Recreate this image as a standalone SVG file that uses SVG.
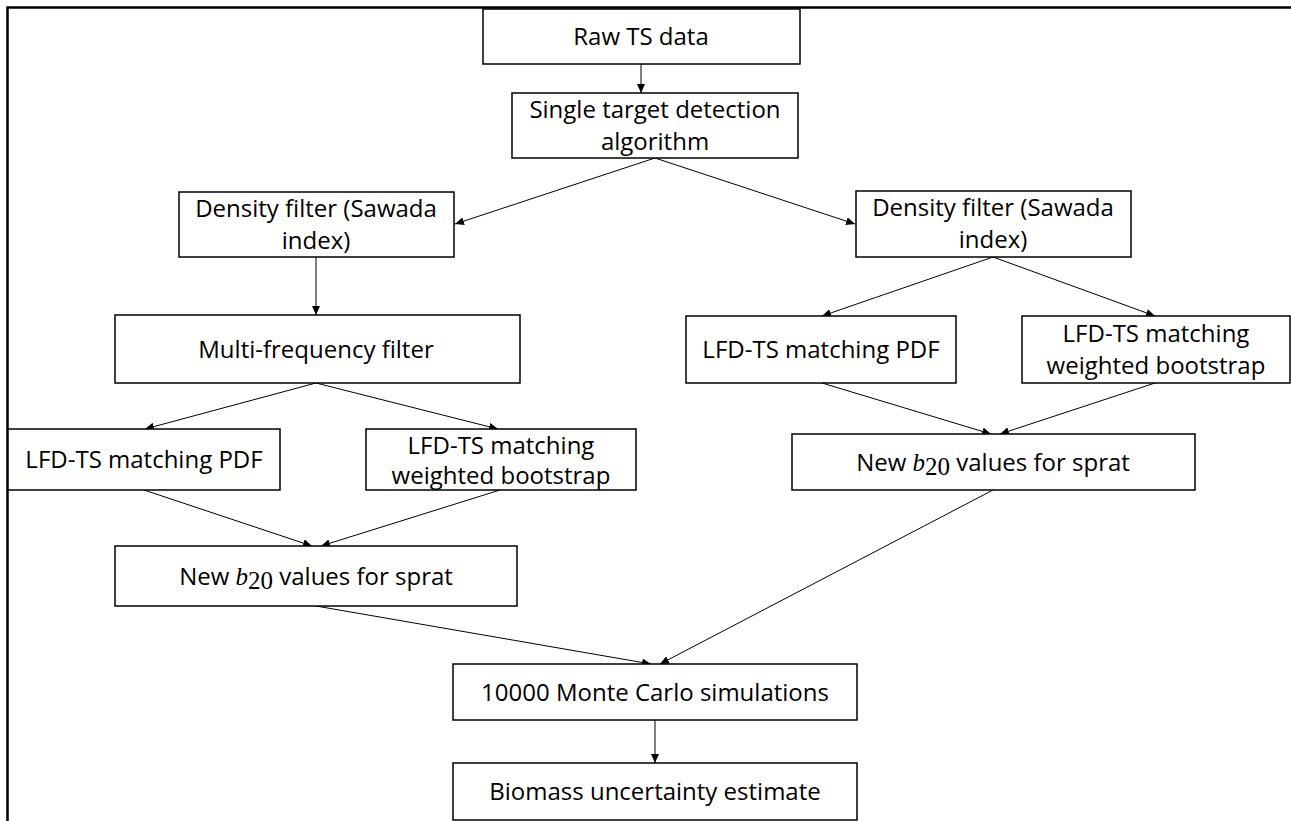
<svg xmlns="http://www.w3.org/2000/svg" width="1291" height="821" viewBox="0 0 1291 821">
<defs>
<marker id="ah" markerWidth="9" markerHeight="8" refX="9" refY="4" orient="auto" markerUnits="userSpaceOnUse">
<path d="M0,0 L9,4 L0,8 Z" fill="#000"/>
</marker>
<style>
.box{fill:#fff;stroke:#000;stroke-width:1.5}
.t{font-family:"Open Sans","Liberation Sans",sans-serif;font-size:24px;fill:#000;text-anchor:middle}
.m{font-family:"Liberation Serif",serif;font-size:25px}
.c{stroke:#000;stroke-width:1;fill:none;marker-end:url(#ah)}
</style>
</defs>
<rect width="1291" height="821" fill="#fff"/>
<path d="M7.5,821 V7.5 H1291" fill="none" stroke="#000" stroke-width="2.5"/>
<g id="connectors">
<line class="c" x1="641" y1="64" x2="641" y2="93"/>
<line class="c" x1="655" y1="158" x2="455" y2="224"/>
<line class="c" x1="655" y1="158" x2="855" y2="224"/>
<line class="c" x1="316" y1="257" x2="316" y2="315"/>
<line class="c" x1="316" y1="383" x2="145" y2="429"/>
<line class="c" x1="316" y1="383" x2="498" y2="429"/>
<line class="c" x1="993" y1="257" x2="822" y2="316"/>
<line class="c" x1="993" y1="257" x2="1155" y2="316"/>
<line class="c" x1="144" y1="490" x2="312" y2="546"/>
<line class="c" x1="500" y1="490" x2="321" y2="546"/>
<line class="c" x1="822" y1="383" x2="991" y2="434"/>
<line class="c" x1="1155" y1="383" x2="1000" y2="434"/>
<line class="c" x1="316" y1="606" x2="651" y2="664"/>
<line class="c" x1="993" y1="490" x2="660" y2="664"/>
<line class="c" x1="655" y1="720" x2="655" y2="763"/>
</g>
<g id="raw"><rect class="box" x="483" y="9" width="317" height="55"/><text class="t" x="641" y="45">Raw TS data</text></g>
<g id="single"><rect class="box" x="512" y="93" width="286" height="65"/><text class="t" x="655" y="118">Single target detection</text><text class="t" x="655" y="150">algorithm</text></g>
<g id="densityL"><rect class="box" x="179" y="192" width="275" height="65"/><text class="t" x="316" y="217">Density filter (Sawada</text><text class="t" x="316" y="249">index)</text></g>
<g id="densityR"><rect class="box" x="856" y="191" width="275" height="66"/><text class="t" x="993" y="216">Density filter (Sawada</text><text class="t" x="993" y="248">index)</text></g>
<g id="multi"><rect class="box" x="115" y="315" width="405" height="68"/><text class="t" x="316" y="358">Multi-frequency filter</text></g>
<g id="pdfR"><rect class="box" x="686" y="316" width="270" height="67"/><text class="t" x="821" y="358">LFD-TS matching PDF</text></g>
<g id="bootR"><rect class="box" x="1022" y="316" width="268" height="67"/><text class="t" x="1156" y="342">LFD-TS matching</text><text class="t" x="1156" y="374">weighted bootstrap</text></g>
<g id="pdfL"><rect class="box" x="8" y="429" width="272" height="61"/><text class="t" x="144" y="468">LFD-TS matching PDF</text></g>
<g id="bootL"><rect class="box" x="366" y="429" width="270" height="61"/><text class="t" x="501" y="454">LFD-TS matching</text><text class="t" x="501" y="484">weighted bootstrap</text></g>
<g id="b20R"><rect class="box" x="792" y="434" width="403" height="56"/><text class="t" x="993" y="471">New <tspan class="m" font-style="italic">b</tspan><tspan class="m" font-size="18" dy="4">20</tspan><tspan dy="-4"> values for sprat</tspan></text></g>
<g id="b20L"><rect class="box" x="115" y="546" width="402" height="60"/><text class="t" x="316" y="585">New <tspan class="m" font-style="italic">b</tspan><tspan class="m" font-size="18" dy="4">20</tspan><tspan dy="-4"> values for sprat</tspan></text></g>
<g id="mc"><rect class="box" x="453" y="664" width="404" height="56"/><text class="t" x="655" y="701">10000 Monte Carlo simulations</text></g>
<g id="bio"><rect class="box" x="453" y="763" width="404" height="57"/><text class="t" x="655" y="800">Biomass uncertainty estimate</text></g>
</svg>
